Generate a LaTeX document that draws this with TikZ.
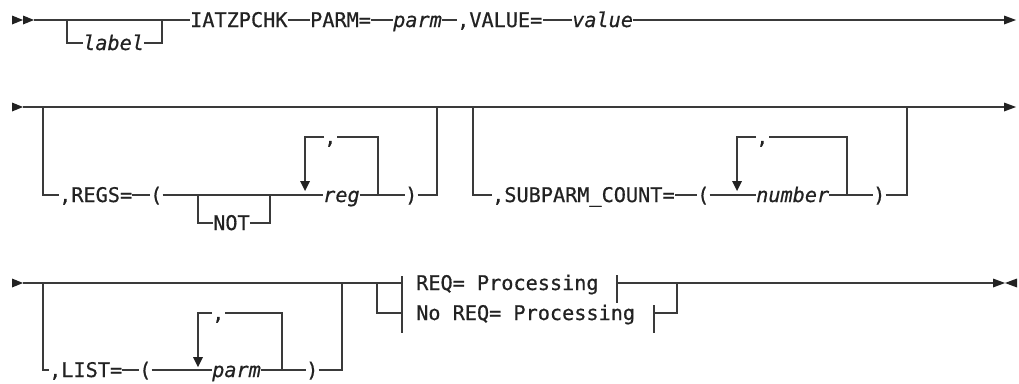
\documentclass[tikz,border=0pt]{standalone}
\usepackage{fontspec}
\newfontfamily\rrfont[FakeBold=0.6]{DejaVu Sans Mono}
\definecolor{ink}{HTML}{222222}
\definecolor{rl}{HTML}{3A3A3A}
\tikzset{
  lbl/.style={anchor=west, inner sep=0pt, text height=14pt, text depth=0pt,
    font=\rrfont\fontsize{20.2}{24}\selectfont, text=ink},
  var/.style={lbl, font=\rrfont\itshape\fontsize{20.2}{24}\selectfont},
  rail/.style={draw=rl, line width=1.4pt},
  tipfill/.style={fill=ink, draw=none},
}
\begin{document}
\begin{tikzpicture}[x=1pt, y=-1pt]
\useasboundingbox (0,0) rectangle (1019,383);

% ---------- Row 1 ----------
\fill[tipfill] (12,15.5) -- (23,20) -- (12,24.5) -- cycle;
\fill[tipfill] (23,15.5) -- (34,20) -- (23,24.5) -- cycle;
\coordinate (m1s) at (34,20);
\coordinate (b1a) at (67,20);
\coordinate (b1b) at (162,20);
\coordinate (m1e) at (1004,20);
\node[var] (label) at (83,43) {label};
\node[lbl] (iatz) at (190,20) {IATZPCHK};
\node[lbl] (parmkw) at (310,20) {PARM=};
\node[var] (parm1) at (393,20) {parm};
\node[lbl] (valkw) at (457,20) {,VALUE=};
\node[var] (value) at (572,20) {value};
\draw[rail] (m1s) -- (iatz.west);
\draw[rail] (b1a) |- (label.west);
\draw[rail] (label.east) -| (b1b);
\draw[rail] (iatz.east) -- (parmkw.west);
\draw[rail] (parmkw.east) -- (parm1.west);
\draw[rail] (parm1.east) -- (valkw.west);
\draw[rail] (valkw.east) -- (value.west);
\draw[rail] (value.east) -- (m1e);
\fill[tipfill] (1004,15.5) -- (1016,20) -- (1004,24.5) -- cycle;

% ---------- Row 2 ----------
\fill[tipfill] (12,102.5) -- (23,107) -- (12,111.5) -- cycle;
\coordinate (m2s) at (23,107);
\coordinate (m2e) at (1004,107);
\draw[rail] (m2s) -- (m2e);
\fill[tipfill] (1004,102.5) -- (1016,107) -- (1004,111.5) -- cycle;

% REGS group
\coordinate (g1a) at (43,107);
\coordinate (g1b) at (437,107);
\node[lbl] (regs) at (59,195) {,REGS=};
\node[lbl] (lp1) at (150,195) {(};
\node[lbl] (not) at (213,223) {NOT};
\coordinate (n1a) at (198,195);
\coordinate (n1b) at (270,195);
\node[var] (reg) at (323,195) {reg};
\node[lbl] (rp1) at (405,195) {)};
\node[lbl] (c1) at (324,137) {,};
\coordinate (k1l) at (305,182);
\coordinate (k1r) at (378,195);
\draw[rail] (g1a) |- (regs.west);
\draw[rail] (regs.east) -- (lp1.west);
\draw[rail] (lp1.east) -- (reg.west);
\draw[rail] (n1a) |- (not.west);
\draw[rail] (not.east) -| (n1b);
\draw[rail] (reg.east) -- (rp1.west);
\draw[rail] (rp1.east) -| (g1b);
\draw[rail] (k1r) |- (c1.east);
\draw[rail] (c1.west) -| (k1l);
\fill[tipfill] (300,181) -- (310,181) -- (305,191) -- cycle;

% SUBPARM_COUNT group
\coordinate (g2a) at (473,107);
\coordinate (g2b) at (907,107);
\node[lbl] (subp) at (492,195) {,SUBPARM\_COUNT=};
\node[lbl] (lp2) at (697,195) {(};
\node[var] (num) at (756,195) {number};
\node[lbl] (rp2) at (873,195) {)};
\node[lbl] (c2) at (756,137) {,};
\coordinate (k2l) at (737,182);
\coordinate (k2r) at (847,195);
\draw[rail] (g2a) |- (subp.west);
\draw[rail] (subp.east) -- (lp2.west);
\draw[rail] (lp2.east) -- (num.west);
\draw[rail] (num.east) -- (rp2.west);
\draw[rail] (rp2.east) -| (g2b);
\draw[rail] (k2r) |- (c2.east);
\draw[rail] (c2.west) -| (k2l);
\fill[tipfill] (732,181) -- (742,181) -- (737,191) -- cycle;

% ---------- Row 3 ----------
\fill[tipfill] (12,278.5) -- (23,283) -- (12,287.5) -- cycle;
\coordinate (m3s) at (23,283);
\coordinate (bar1) at (402,283);
\coordinate (bar2) at (402,313);
\coordinate (j3) at (377,283);
\draw[rail] (m3s) -- (bar1);
\draw[rail] (j3) |- (bar2);
\draw[rail] (402,276) -- (402,333);

% LIST group
\coordinate (g3a) at (43,283);
\coordinate (g3b) at (342,283);
\node[lbl] (list) at (49,370) {,LIST=};
\node[lbl] (lp3) at (139,370) {(};
\node[var] (parm2) at (212,370) {parm};
\node[lbl] (rp3) at (306,370) {)};
\node[lbl] (c3) at (212,313) {,};
\coordinate (k3l) at (198,358);
\coordinate (k3r) at (282,370);
\draw[rail] (g3a) |- (list.west);
\draw[rail] (list.east) -- (lp3.west);
\draw[rail] (lp3.east) -- (parm2.west);
\draw[rail] (parm2.east) -- (rp3.west);
\draw[rail] (rp3.east) -| (g3b);
\draw[rail] (k3r) |- (c3.east);
\draw[rail] (c3.west) -| (k3l);
\fill[tipfill] (193,357) -- (203,357) -- (198,367) -- cycle;

% REQ fragments
\node[lbl] (req) at (416,283) {REQ= Processing};
\node[lbl] (noreq) at (416,313) {No REQ= Processing};
\coordinate (e1) at (617,283);
\coordinate (e2) at (654,313);
\coordinate (j4) at (677,283);
\coordinate (m3e) at (993,283);
\draw[rail] (617,275) -- (617,303);
\draw[rail] (654,305) -- (654,333);
\draw[rail] (e1) -- (m3e);
\draw[rail] (e2) -| (j4);
\fill[tipfill] (993,278.5) -- (1005,283) -- (993,287.5) -- cycle;
\fill[tipfill] (1017,278.5) -- (1005,283) -- (1017,287.5) -- cycle;
\end{tikzpicture}
\end{document}
